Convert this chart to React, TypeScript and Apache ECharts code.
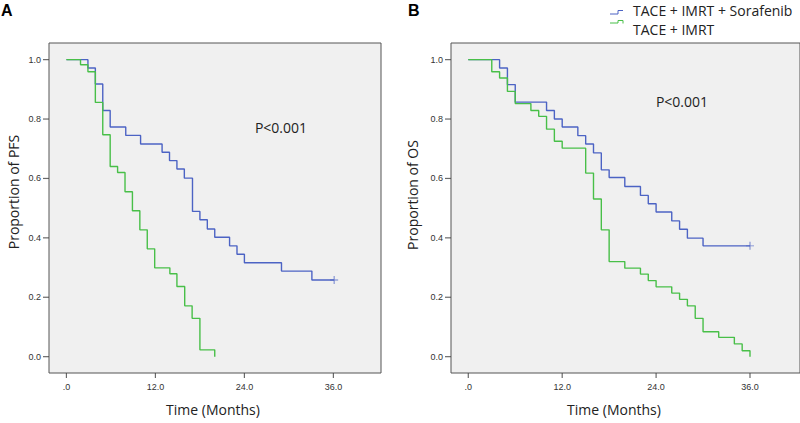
import React, { useEffect, useRef } from "react";
import * as echarts from "echarts";

// Panel A (PFS)
const aBlueT = [0, 2.9, 3.9, 4.9, 5.9, 8, 10, 12.9, 13.9, 14.9, 15.9, 17, 18, 19, 20, 22, 23, 24, 29, 33.1, 36.1];
const aBlueS = [1.0, 0.972, 0.918, 0.829, 0.773, 0.745, 0.716, 0.688, 0.66, 0.632, 0.601, 0.489, 0.461, 0.43, 0.402, 0.373, 0.345, 0.316, 0.288, 0.258, 0.258];
const aGreenT = [0, 1.9, 2.9, 3.9, 4.9, 5.9, 6.9, 7.9, 8.9, 9.9, 10.9, 11.9, 13.95, 14.9, 15.95, 16.95, 18, 20];
const aGreenS = [1.0, 0.983, 0.959, 0.856, 0.747, 0.64, 0.62, 0.555, 0.491, 0.427, 0.363, 0.299, 0.279, 0.236, 0.171, 0.129, 0.023, 0.0];
const aCensor = [[36.1, 0.258]];

// Panel B (OS)
const bBlueT = [0, 4, 5, 6, 10, 11, 12, 14, 15, 16, 17, 18, 20, 22, 23, 24, 26, 27, 28, 30, 36];
const bBlueS = [1.0, 0.972, 0.916, 0.857, 0.829, 0.8, 0.773, 0.744, 0.716, 0.686, 0.629, 0.603, 0.573, 0.543, 0.515, 0.487, 0.457, 0.429, 0.399, 0.373, 0.373];
const bGreenT = [0, 3, 4, 5, 6, 8, 9, 10, 11, 12, 15, 16, 17, 18, 20, 22, 23, 24, 26, 27, 28, 29, 30, 32, 34, 35, 36];
const bGreenS = [1.0, 0.959, 0.938, 0.893, 0.852, 0.829, 0.809, 0.766, 0.725, 0.702, 0.618, 0.531, 0.427, 0.32, 0.298, 0.278, 0.256, 0.235, 0.214, 0.193, 0.171, 0.129, 0.084, 0.065, 0.043, 0.02, 0.0];
const bCensor = [[36, 0.373]];

const xTicks = [0, 12, 24, 36];
const yTicks = [0, 0.2, 0.4, 0.6, 0.8, 1.0];
const seriesNames = ["TACE + IMRT + Sorafenib", "TACE + IMRT"];

const BLUE = "#4c63c4";
const GREEN = "#48bf48";
const FONT = "'Open Sans', sans-serif";
const Y_MIN = -0.055;
const Y_MAX = 1.056;
const X_RANGES = [
  [-2.35, 42.42],
  [-2.21, 42.39],
];

const zip = (t: number[], s: number[]) => t.map((v, i) => [v, s[i]]);

export default function App() {
  const ref = useRef<HTMLDivElement>(null);
  useEffect(() => {
    if (!ref.current) return;
    const chart = echarts.init(ref.current, null, { renderer: "svg" });
    const grid = (left: number, width: number) => ({
      left,
      top: 43,
      width,
      height: 330,
      show: true,
      backgroundColor: "#f0f0f0",
      borderColor: "#555",
      borderWidth: 1,
    });
    const xAxis = (gi: number) => ({
      type: "value",
      gridIndex: gi,
      min: X_RANGES[gi][0],
      max: X_RANGES[gi][1],
      position: "bottom",
      splitLine: { show: false },
      axisLine: { show: false, onZero: false },
      axisTick: { show: false },
      axisLabel: {
        customValues: xTicks,
        margin: 9,
        fontSize: 9,
        color: "#333",
        fontFamily: "'Liberation Sans', Arial, sans-serif",
        formatter: (v: number) => (v === 0 ? ".0" : v.toFixed(1)),
      },
    });
    const yAxis = (gi: number) => ({
      type: "value",
      gridIndex: gi,
      min: Y_MIN,
      max: Y_MAX,
      position: "left",
      splitLine: { show: false },
      axisLine: { show: false, onZero: false },
      axisTick: { show: false },
      axisLabel: {
        customValues: yTicks,
        margin: 8,
        fontSize: 9,
        color: "#333",
        fontFamily: "'Liberation Sans', Arial, sans-serif",
        formatter: (v: number) => v.toFixed(1),
      },
    });
    const line = (name: string, gi: number, data: number[][], color: string) => ({
      type: "line",
      name,
      xAxisIndex: gi,
      yAxisIndex: gi,
      step: "end",
      data,
      symbol: "none",
      lineStyle: { color, width: 1.4 },
      itemStyle: { color },
    });
    const plus = "path://M0,4.4H10V5.6H0Z M4.4,0H5.6V10H4.4Z";
    const censor = (gi: number, data: number[][]) => ({
      type: "scatter",
      xAxisIndex: gi,
      yAxisIndex: gi,
      data,
      symbol: plus,
      symbolSize: 8,
      itemStyle: { color: BLUE },
    });
    // axis ticks placed through the axes' own scales
    const ticks = (gi: number, vertical: boolean) => ({
      type: "scatter",
      xAxisIndex: gi,
      yAxisIndex: gi,
      clip: false,
      silent: true,
      z: 10,
      data: vertical
        ? xTicks.map((v) => [v, Y_MIN])
        : yTicks.map((v) => [X_RANGES[gi][0], v]),
      symbol: "rect",
      symbolSize: vertical ? [1.2, 5] : [6, 1.2],
      symbolOffset: vertical ? [0, 2.5] : [-3, 0],
      itemStyle: { color: "#444" },
    });
    const txt = (text: string, x: number, y: number, extra: any = {}, rot = 0) => ({
      type: "text",
      x,
      y,
      rotation: rot,
      style: {
        text,
        x: 0,
        y: 0,
        fill: "#222",
        font: `14px ${FONT}`,
        align: "center",
        verticalAlign: "middle",
        ...extra,
      },
    });
    chart.setOption({
      animation: false,
      backgroundColor: "#fff",
      grid: [grid(49, 332), grid(451, 349)],
      xAxis: [xAxis(0), xAxis(1)],
      yAxis: [yAxis(0), yAxis(1)],
      series: [
        ticks(0, true),
        ticks(0, false),
        ticks(1, true),
        ticks(1, false),
        line(seriesNames[0], 0, zip(aBlueT, aBlueS), BLUE),
        line(seriesNames[1], 0, zip(aGreenT, aGreenS), GREEN),
        censor(0, aCensor),
        line(seriesNames[0], 1, zip(bBlueT, bBlueS), BLUE),
        line(seriesNames[1], 1, zip(bGreenT, bGreenS), GREEN),
        censor(1, bCensor),
      ],
      graphic: [
        txt("A", 1, 2, { font: "bold 16px 'Liberation Sans', Arial, sans-serif", align: "left", verticalAlign: "top", fill: "#000" }),
        txt("B", 408, 2, { font: "bold 16px 'Liberation Sans', Arial, sans-serif", align: "left", verticalAlign: "top", fill: "#000" }),
        txt("Proportion of PFS", 13, 192, {}, Math.PI / 2),
        txt("Proportion of OS", 412, 195, {}, Math.PI / 2),
        txt("Time (Months)", 213, 409),
        txt("Time (Months)", 614, 409),
        txt("P<0.001", 281, 127),
        txt("P<0.001", 682, 101),
        {
          type: "polyline",
          shape: { points: [[610, 14], [618, 14], [618, 10.5], [623, 10.5]] },
          style: { stroke: BLUE, lineWidth: 1, fill: "none" },
        },
        {
          type: "polyline",
          shape: { points: [[610, 23], [618, 23], [618, 20.5], [623, 20.5], [623, 23.5]] },
          style: { stroke: GREEN, lineWidth: 1, fill: "none" },
        },
        txt(seriesNames[0], 633, 10, { align: "left" }),
        txt(seriesNames[1], 633, 29, { align: "left" }),
      ],
    });
    return () => chart.dispose();
  }, []);
  return (
    <div
      ref={ref}
      style={{ position: "absolute", left: 0, top: 0, width: 800, height: 423 }}
    />
  );
}
